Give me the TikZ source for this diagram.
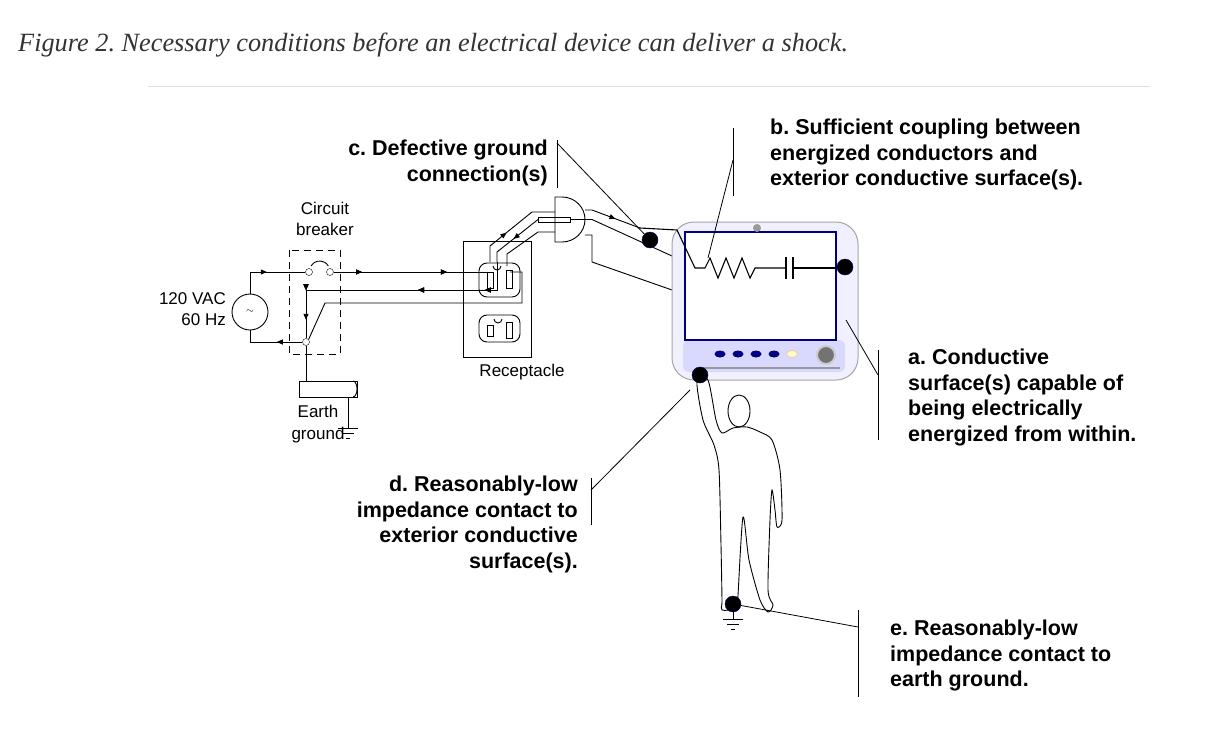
\documentclass[tikz,border=0pt]{standalone}
\usepackage{fontspec}
\setmainfont{Liberation Sans}
\newfontfamily\ttl{Liberation Serif}
\usetikzlibrary{arrows.meta,decorations.markings,shapes.geometric}
\frenchspacing
\begin{document}
\begin{tikzpicture}[x=1pt,y=-1pt,
  wire/.style={line width=0.9pt},
  arr/.style={postaction={decorate},decoration={markings,mark=at position #1 with {\arrow{Triangle[length=6pt,width=5pt]}}}},
  lab/.style={font=\fontsize{21.5}{25.5}\selectfont\bfseries,align=left,inner sep=0pt},
  labr/.style={font=\fontsize{21.5}{25.5}\selectfont\bfseries,align=right,inner sep=0pt},
  small/.style={font=\fontsize{17}{21.5}\selectfont,inner sep=0pt},
  dot/.style={circle,fill=black,draw=blue!40!black,inner sep=0pt,minimum size=16pt},
  lead/.style={line width=0.8pt},
  contact/.style={circle,draw,fill=white,inner sep=0pt,minimum size=7pt}]
\useasboundingbox (0,0) rectangle (1221,744);
\fill[white] (0,0) rectangle (1221,744);
\node[anchor=west,inner sep=0pt,font=\ttl\itshape\fontsize{26.3}{30}\selectfont,text=black!80] (title) at (18,45) {Figure 2. Necessary conditions before an electrical device can deliver a shock.};
\draw[black!12,line width=0.8pt] (148,86) coordinate(r1) -- (1150,86) coordinate(r2);

% source
\node[circle,draw,line width=0.9pt,minimum size=36pt,inner sep=0pt] (src) at (250,312) {$\sim$};
\node[small,align=right,anchor=east] (vac) at (226,309) {120 VAC\\60 Hz};
% breaker
\draw[dashed,line width=0.9pt,dash pattern=on 7pt off 5pt] (289,250) rectangle (340,354);
\node[small,align=center] (cbl) at (325,219) {Circuit\\breaker};
\node[contact] (c1) at (309,272) {};
\node[contact] (c2) at (330,272) {};
\node[contact] (c3) at (306,342) {};
\draw[wire] (311,266) arc (210:330:10);
% wires
\draw[wire,arr=0.5] (src.north) |- (c1.west);
\draw[wire,arr=0.18,arr=0.72] (c2.east) -- (491,272) coordinate(s1);
\draw[wire,arr=0.15,arr=0.4,arr=0.82] (497,262) coordinate(gp) -- (497,290) -- (306,290) -- (c3.north);
\draw[wire,arr=0.55] (306,300) -- (306,336);
\draw[wire] (c3.north east) -- (325,303) -- (522,303) -- (522,272) -- (510,272);
\draw[wire,arr=0.4] (c3.west) -- (250,342) -- (src.south);
% ground
\draw[wire] (c3.south) -- (306,381);
\draw[wire] (299,381) rectangle (357,397);
\draw[wire] (353,381) arc (-90:90:4 and 8);
\draw[wire] (348,397) -- (348,428);
\draw[wire] (338,428) -- (358,428) (342,433) -- (354,433) (346,438) -- (350,438);
\node[small,align=center] (eg) at (318,424) {Earth\\ground};
% receptacle
\draw[wire] (463,241) rectangle (531,357);
\draw[wire,rounded corners=8pt] (479,263) rectangle (520,297);
\draw[wire] (487,272) rectangle (493,288) (506,270) rectangle (512,288);
\draw[wire] (493,266) arc (180:0:4);
\draw[wire,rounded corners=8pt] (479,315) rectangle (520,342);
\draw[wire] (487,325) rectangle (493,336) (506,322) rectangle (512,338);
\draw[wire] (494,319) arc (180:0:4);
\node[small] (rec) at (522,372) {Receptacle};
% plug and cord
\draw[wire] (555,197) -- (562,197) arc (-90:90:23 and 22.5) -- (555,242) -- cycle;
\draw[wire,arr=0.4] (490,262) -- (490,246) -- (532,212) -- (555,212);
\draw[wire] (538,217) rectangle (570,222);
\draw[wire,arr=0.5] (538,219.5) -- (497,252) -- (497,262);
\draw[wire] (507,266) -- (507,254) -- (538,232) -- (555,232);
\draw[wire,arr=0.55] (585,210) -- (592,210) -- (640,228) coordinate(w1);
\draw[wire] (570,219.5) -- (592,219.5) -- (672,256);
\draw[wire] (585,235) -- (592,235) -- (592,262) -- (672,290);
% monitor
\draw[black!35,fill=blue!6,rounded corners=22pt,line width=1pt] (672,222) rectangle (858,380);
\fill[blue!15,rounded corners=6pt] (683,340) rectangle (845,372);
\draw[blue!50!black,fill=white,line width=1.2pt] (685,232) rectangle (836,340);
\node[circle,fill=black!40,inner sep=0pt,minimum size=8pt] (ge) at (757,228) {};
\foreach \x in {720,738,756,774} \node[ellipse,fill=blue!50!black,minimum width=11pt,minimum height=7pt,inner sep=0pt] at (\x,354) {};
\node[ellipse,draw=orange!60,fill=yellow!20,minimum width=11pt,minimum height=7pt,inner sep=0pt] (ob) at (792,354) {};
\node[circle,fill=black!55,draw=black!20,line width=2pt,minimum size=18pt] (knob) at (826,355) {};
\draw[black!40,line width=2pt] (700,368) -- (840,368);
% internal circuit
\draw[wire,line width=1.1pt] (w1) -- (677,230) -- (695,268) -- (705,268) -- (710,258) -- (718,278) -- (726,258) -- (734,278) -- (742,258) -- (750,278) -- (755,268) -- (785,268);
\draw[wire,line width=1.6pt] (786,257) -- (786,279) (793,257) -- (793,279);
\draw[wire,line width=1.1pt] (793,268) -- (845,268);
\node[dot] (da) at (845,267) {};
\node[dot] (dc) at (650,240) {};
\node[dot] (dd) at (700,375) {};
\node[dot] (de) at (733,604) {};
% person
\draw[line width=0.9pt] (739,411) ellipse (11 and 16);
\draw[line width=0.9pt] plot[smooth cycle,tension=0.45] coordinates {
 (697,382) (703,420) (714,445) (719,470) (721,545) (722,600) (722,610) (737,608) (738,595) (743,517) (749,560) (760,600) (768,612) (773,605) (768,590) (770,520) (772,490) (775,510) (777,527) (782,520) (780,470) (772,440) (760,432) (747,427) (733,428) (722,433) (716,420) (708,380)};
\draw[line width=0.9pt] (733,612) -- (733,619) (723,619) -- (743,619) (727,624) -- (739,624) (731,629) -- (735,629);
% labels
\node[labr,anchor=north east] (lc) at (548,140) {c. Defective ground\\connection(s)};
\draw[lead] (557,140) -- (557,188);
\draw[lead] (557,143) -- (dc);
\node[lab,anchor=north west] (lb) at (770,119) {b. Sufficient coupling between\\energized conductors and\\exterior conductive surface(s).};
\draw[lead] (733,128) -- (733,196);
\draw[lead] (733,160) -- (708,258);
\node[lab,anchor=north west] (la) at (908,349) {a. Conductive\\surface(s) capable of\\being electrically\\energized from within.};
\draw[lead] (878,350) -- (878,440);
\draw[lead] (878,375) -- (846,320);
\node[labr,anchor=north east] (ld) at (578,476) {d. Reasonably-low\\impedance contact to\\exterior conductive\\surface(s).};
\draw[lead] (591,478) -- (591,525);
\draw[lead] (591,490) -- (690,390);
\node[lab,anchor=north west] (le) at (890,620) {e. Reasonably-low\\impedance contact to\\earth ground.};
\draw[lead] (858,610) -- (858,697);
\draw[lead] (858,627) -- (de);
\end{tikzpicture}
\end{document}
